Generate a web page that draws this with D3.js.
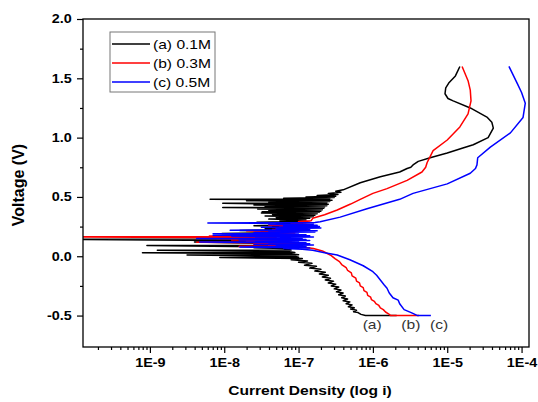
<!DOCTYPE html>
<html>
<head>
<meta charset="utf-8">
<script src="https://cdn.jsdelivr.net/npm/d3@7"></script>
<style>
body { margin: 0; background: #fff; }
svg { display: block; font-family: Arial, "Liberation Sans", sans-serif; }
</style>
</head>
<body>
<svg id="graphe" width="538" height="402"></svg>
<script>
//-------------------Données : [log10(i), tension en V], dans l'ordre du balayage----------------------------------------

var courbeA = [
    [-5.68,-0.500],[-6.10,-0.500],[-6.16,-0.490],[-6.20,-0.475],[-6.26,-0.468],[-6.22,-0.455],[-6.30,-0.445],[-6.25,-0.435],
    [-6.33,-0.425],[-6.28,-0.410],[-6.36,-0.400],[-6.31,-0.385],[-6.40,-0.375],[-6.34,-0.360],[-6.42,-0.350],[-6.37,-0.335],
    [-6.46,-0.325],[-6.40,-0.310],[-6.49,-0.300],[-6.43,-0.285],[-6.52,-0.275],[-6.46,-0.260],[-6.56,-0.250],[-6.50,-0.235],
    [-6.60,-0.225],[-6.53,-0.210],[-6.64,-0.200],[-6.57,-0.185],[-6.68,-0.175],[-6.60,-0.160],[-6.72,-0.150],[-6.64,-0.135],
    [-6.78,-0.125],[-6.70,-0.110],[-6.85,-0.100],[-6.76,-0.085],[-6.92,-0.075],[-6.82,-0.060],[-7.00,-0.050],[-6.88,-0.040],
    [-7.10,-0.030],[-6.95,-0.020],[-8.06,-0.010],[-7.00,-0.008],[-7.05,0.000],[-8.50,0.010],[-7.00,0.012],[-7.10,0.020],
    [-9.10,0.030],[-7.05,0.032],[-7.15,0.040],[-8.90,0.050],[-7.10,0.052],[-7.20,0.065],[-7.60,0.072],[-7.15,0.078],
    [-9.04,0.090],[-7.15,0.092],[-7.25,0.105],[-8.40,0.120],[-7.20,0.122],[-7.30,0.130],[-10.5,0.143],[-7.30,0.146],
    [-7.40,0.150],[-8.00,0.165],[-7.30,0.170],[-7.60,0.178],[-7.25,0.185],[-8.03,0.192],[-7.20,0.198],[-7.50,0.204],
    [-7.15,0.210],[-7.79,0.218],[-7.10,0.225],[-7.45,0.232],[-7.05,0.238],[-7.35,0.245],[-7.00,0.252],[-7.60,0.258],
    [-7.00,0.265],[-7.30,0.272],[-6.95,0.278],[-7.56,0.286],[-6.92,0.292],[-7.25,0.300],[-6.90,0.306],[-7.40,0.313],
    [-6.85,0.320],[-7.30,0.326],[-6.80,0.333],[-7.45,0.340],[-6.78,0.346],[-7.35,0.352],[-6.75,0.358],[-7.50,0.364],
    [-6.72,0.370],[-7.49,0.375],[-6.70,0.380],[-7.40,0.386],[-6.68,0.392],[-7.55,0.398],[-6.66,0.404],[-8.02,0.410],
    [-6.65,0.415],[-7.45,0.420],[-6.62,0.426],[-7.60,0.432],[-6.60,0.438],[-8.02,0.446],[-6.62,0.450],[-7.40,0.456],
    [-6.58,0.462],[-7.70,0.468],[-6.55,0.473],[-8.19,0.480],[-6.58,0.484],[-7.20,0.490],[-6.52,0.495],[-6.90,0.500],
    [-6.50,0.505],[-6.75,0.512],[-6.47,0.520],[-6.60,0.530],[-6.43,0.540],[-6.50,0.548],[-6.40,0.560],[-6.17,0.62],
    [-5.90,0.67],[-5.64,0.71],[-5.54,0.74],[-5.49,0.75],[-5.46,0.77],[-5.39,0.80],[-5.23,0.83],[-5.00,0.87],
    [-4.80,0.91],[-4.65,0.94],[-4.45,1.00],[-4.38,1.08],[-4.40,1.13],[-4.46,1.17],[-4.69,1.25],[-4.92,1.31],
    [-4.99,1.33],[-5.03,1.37],[-5.02,1.42],[-4.98,1.46],[-4.89,1.52],[-4.83,1.60]
];

var courbeB = [
    [-5.38,-0.500],[-5.76,-0.500],[-5.79,-0.485],[-5.83,-0.470],[-5.86,-0.450],[-5.90,-0.435],[-5.92,-0.415],[-5.96,-0.400],
    [-5.98,-0.380],[-6.02,-0.365],[-6.03,-0.345],[-6.07,-0.330],[-6.08,-0.305],[-6.12,-0.290],[-6.13,-0.265],[-6.17,-0.250],
    [-6.18,-0.225],[-6.22,-0.210],[-6.23,-0.185],[-6.28,-0.165],[-6.29,-0.140],[-6.34,-0.120],[-6.36,-0.095],[-6.42,-0.070],
    [-6.45,-0.045],[-6.51,-0.020],[-6.56,0.005],[-6.62,0.025],[-6.68,0.045],[-6.80,0.065],[-6.98,0.080],[-7.80,0.085],
    [-6.95,0.090],[-7.40,0.095],[-6.92,0.100],[-7.60,0.105],[-7.00,0.110],[-8.37,0.118],[-7.10,0.122],[-7.70,0.128],
    [-7.05,0.133],[-7.90,0.138],[-7.15,0.143],[-8.10,0.150],[-7.30,0.155],[-8.40,0.158],[-10.5,0.163],[-7.40,0.166],
    [-8.20,0.170],[-7.20,0.175],[-7.90,0.180],[-7.10,0.185],[-7.60,0.190],[-7.05,0.196],[-7.50,0.202],[-7.00,0.208],
    [-7.70,0.214],[-6.98,0.220],[-7.35,0.226],[-6.95,0.232],[-7.30,0.238],[-6.95,0.244],[-7.25,0.250],[-6.90,0.256],
    [-7.40,0.262],[-6.90,0.268],[-7.10,0.276],[-6.85,0.284],[-7.00,0.292],[-6.83,0.300],[-6.81,0.32],[-6.65,0.35],
    [-6.48,0.39],[-6.30,0.44],[-6.17,0.48],[-6.00,0.53],[-5.81,0.57],[-5.54,0.64],[-5.34,0.71],[-5.29,0.75],
    [-5.27,0.79],[-5.23,0.84],[-5.19,0.89],[-5.00,0.98],[-4.83,1.09],[-4.72,1.20],[-4.68,1.31],[-4.69,1.40],
    [-4.72,1.48],[-4.80,1.60]
];

var courbeC = [
    [-5.22,-0.50],[-5.40,-0.50],[-5.47,-0.48],[-5.58,-0.45],[-5.64,-0.40],[-5.66,-0.37],[-5.73,-0.35],[-5.78,-0.31],
    [-5.81,-0.27],[-5.85,-0.24],[-5.90,-0.20],[-5.95,-0.16],[-6.00,-0.13],[-6.13,-0.08],[-6.31,-0.03],[-6.48,0.01],
    [-6.65,0.03],[-6.81,0.050],[-6.95,0.058],[-7.20,0.065],[-6.85,0.070],[-7.79,0.078],[-6.90,0.083],[-7.30,0.088],
    [-6.80,0.094],[-7.60,0.100],[-6.85,0.105],[-7.40,0.110],[-6.90,0.114],[-8.33,0.120],[-7.00,0.124],[-7.50,0.128],
    [-6.85,0.133],[-7.80,0.138],[-6.90,0.142],[-8.37,0.150],[-6.95,0.154],[-7.50,0.158],[-6.80,0.163],[-7.90,0.168],
    [-6.85,0.172],[-8.15,0.178],[-6.90,0.182],[-8.15,0.190],[-7.00,0.195],[-7.60,0.200],[-6.78,0.205],[-7.40,0.210],
    [-6.75,0.215],[-7.92,0.220],[-6.85,0.225],[-7.30,0.232],[-6.70,0.238],[-7.50,0.244],[-6.72,0.250],[-7.20,0.256],
    [-6.75,0.262],[-7.40,0.268],[-6.80,0.274],[-8.22,0.280],[-6.78,0.285],[-6.71,0.29],[-6.44,0.33],[-6.08,0.40],
    [-5.64,0.48],[-5.46,0.53],[-5.00,0.61],[-4.69,0.70],[-4.62,0.74],[-4.60,0.77],[-4.59,0.83],[-4.42,0.92],
    [-4.15,1.04],[-3.98,1.17],[-3.95,1.29],[-4.00,1.38],[-4.06,1.46],[-4.17,1.60]
];

var series = ["(a) 0.1M", "(b) 0.3M", "(c) 0.5M"];
var couleurs = ["#000000", "#ff0000", "#0000ff"];

// étiquettes en bas des branches cathodiques : [log10(i), tension]
var etiquettes = ["(a)", "(b)", "(c)"];
var posEtiquettes = [[-6.01, -0.61], [-5.49, -0.61], [-5.11, -0.61]];

var ticksX = [1e-9, 1e-8, 1e-7, 1e-6, 1e-5, 1e-4];
var ticksY = [-0.5, 0, 0.5, 1.0, 1.5, 2.0];
var ticksYmin = [-0.25, 0.25, 0.75, 1.25, 1.75];

//-------------------Repère----------------------------------------

var svg = d3.select("#graphe");
var gauche = 83, droite = 529, haut = 19, bas = 347;
var etirement = "scale(1.2,1)"; // le texte de l'image d'origine est étiré en largeur

var x = d3.scaleLog()
    .domain([Math.pow(10, -9.9), Math.pow(10, -3.9)])
    .range([gauche, droite]);
var y = d3.scaleLinear()
    .domain([-0.765, 2.0])
    .range([bas, haut]);

// petites graduations log : 2..9 dans chaque décade
var ticksXmin = [];
for (var e = -10; e <= -4; e++) {
    for (var k = 2; k <= 9; k++) {
        var v = k * Math.pow(10, e);
        if (v > x.domain()[0] && v < x.domain()[1]) ticksXmin.push(v);
    }
}

svg.append("defs").append("clipPath").attr("id", "zone")
    .append("rect")
    .attr("x", gauche).attr("y", haut)
    .attr("width", droite - gauche).attr("height", bas - haut);

//-------------------Courbes----------------------------------------

var ligne = d3.line()
    .x(function(d) { return x(Math.pow(10, d[0])); })
    .y(function(d) { return y(d[1]); });

var courbes = [courbeA, courbeB, courbeC];
var gCourbes = svg.append("g").attr("clip-path", "url(#zone)");
courbes.forEach(function(c, i) {
    gCourbes.append("path")
        .attr("d", ligne(c))
        .attr("fill", "none")
        .attr("stroke", couleurs[i])
        .attr("stroke-width", 1.5)
        .attr("stroke-linejoin", "round");
});

//-------------------Axes----------------------------------------

var axeX = svg.append("g")
    .attr("transform", "translate(0," + bas + ")")
    .call(d3.axisBottom(x).tickValues(ticksX).tickSize(6).tickPadding(5)
        .tickFormat(function(d) { return "1E" + Math.round(Math.log10(d)); }));
svg.append("g")
    .attr("transform", "translate(0," + bas + ")")
    .call(d3.axisBottom(x).tickValues(ticksXmin).tickSize(3).tickFormat(""));

var axeY = svg.append("g")
    .attr("transform", "translate(" + gauche + ",0)")
    .call(d3.axisLeft(y).tickValues(ticksY).tickSize(6).tickPadding(5)
        .tickFormat(function(d) { return d.toFixed(1); }));
svg.append("g")
    .attr("transform", "translate(" + gauche + ",0)")
    .call(d3.axisLeft(y).tickValues(ticksYmin).tickSize(3).tickFormat(""));

svg.selectAll(".domain").remove();
svg.selectAll(".tick line").attr("stroke", "#000").attr("stroke-width", 1.2);
svg.selectAll(".tick text")
    .attr("fill", "#000")
    .attr("transform", etirement)
    .style("font-size", "12px")
    .style("font-weight", "bold")
    .style("font-family", "Arial, 'Liberation Sans', sans-serif");
axeY.selectAll(".tick text").attr("x", -9.3);

svg.append("rect")
    .attr("x", gauche).attr("y", haut)
    .attr("width", droite - gauche).attr("height", bas - haut)
    .attr("fill", "none")
    .attr("stroke", "#000")
    .attr("stroke-width", 1.3);

// titres des axes
svg.append("text")
    .attr("transform", "translate(310,395) " + etirement)
    .attr("text-anchor", "middle")
    .style("font-size", "13px").style("font-weight", "bold")
    .text("Current Density (log i)");

svg.append("text")
    .attr("transform", "translate(24,185) rotate(-90)")
    .attr("text-anchor", "middle")
    .style("font-size", "16px").style("font-weight", "bold")
    .text("Voltage (V)");

//-------------------Étiquettes (a) (b) (c)----------------------------------------

etiquettes.forEach(function(t, i) {
    svg.append("text")
        .attr("transform", "translate(" + x(Math.pow(10, posEtiquettes[i][0])) + "," +
            y(posEtiquettes[i][1]) + ") " + etirement)
        .attr("text-anchor", "middle")
        .attr("fill", "#333")
        .style("font-size", "13px")
        .text(t);
});

//-------------------Légende----------------------------------------

var legende = svg.append("g");
legende.append("rect")
    .attr("x", 110).attr("y", 32)
    .attr("width", 105).attr("height", 60)
    .attr("fill", "#fff")
    .attr("stroke", "#777")
    .attr("stroke-width", 1);

series.forEach(function(nom, i) {
    var yy = 44 + i * 19;
    legende.append("line")
        .attr("x1", 112).attr("x2", 150)
        .attr("y1", yy).attr("y2", yy)
        .attr("stroke", couleurs[i])
        .attr("stroke-width", 1.5);
    legende.append("text")
        .attr("transform", "translate(153," + (yy + 4.5) + ") " + etirement)
        .style("font-size", "13px")
        .text(nom);
});
</script>
</body>
</html>
